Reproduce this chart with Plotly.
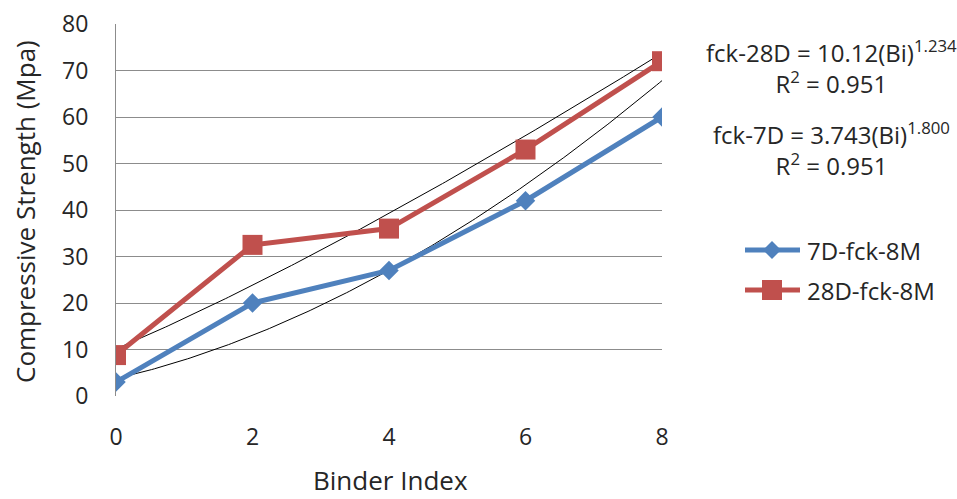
import numpy as np
import plotly.graph_objects as go

# Binder index categories and measured compressive strengths (MPa)
binder_index = [0, 2, 4, 6, 8]
fck_7d = [3, 20, 27, 42, 60]
fck_28d = [8.8, 32.5, 36, 53, 72]

# Power trendline coefficients (fitted on category position 1..5)
trend_28d = (10.12, 1.234)
trend_7d = (3.743, 1.800)

series_names = ["7D-fck-8M", "28D-fck-8M"]
equations = [
    "fck-28D = 10.12(Bi)<sup>1.234</sup><br>R<sup>2</sup> = 0.951",
    "fck-7D = 3.743(Bi)<sup>1.800</sup><br>R<sup>2</sup> = 0.951",
]
x_title = "Binder Index"
y_title = "Compressive Strength (Mpa)"

BLUE = "#4F81BD"
RED = "#C0504D"
FONT = "Open Sans"
TXT = "#262626"

# plot area in pixels
L, R, T, B = 116, 662, 24, 396
W, H = 957, 499


def px(x):
    return (x - L) / (R - L)


def py(y):
    return (B - y) / (B - T)


fig = go.Figure()

# Smooth trendlines evaluated over the category positions
xs = np.linspace(0, 8, 200)
pos = xs / 2 + 1
for a, b in (trend_28d, trend_7d):
    fig.add_trace(go.Scatter(
        x=xs, y=a * pos ** b, mode="lines",
        line=dict(color="black", width=1), showlegend=False, hoverinfo="skip"))

fig.add_trace(go.Scatter(
    x=binder_index, y=fck_7d, mode="lines+markers", name=series_names[0],
    line=dict(color=BLUE, width=5),
    marker=dict(symbol="diamond", size=15, color=BLUE), showlegend=False))
fig.add_trace(go.Scatter(
    x=binder_index, y=fck_28d, mode="lines+markers", name=series_names[1],
    line=dict(color=RED, width=5),
    marker=dict(symbol="square", size=20, color=RED), showlegend=False))

fig.update_layout(
    width=W, height=H,
    margin=dict(l=L, r=W - R, t=T, b=H - B),
    paper_bgcolor="white", plot_bgcolor="white",
    font=dict(family=FONT, color=TXT, size=23),
    xaxis=dict(
        range=[0, 8], tickvals=binder_index, ticktext=[str(v) for v in binder_index],
        showgrid=False, zeroline=False, showline=False, ticks="",
        ticklabelstandoff=25, tickfont=dict(size=23), automargin=False),
    yaxis=dict(
        range=[0, 80], dtick=10, showgrid=True, gridcolor="#8c8c8c", gridwidth=1,
        zeroline=False, showline=True, linecolor="#8c8c8c", linewidth=1, ticks="",
        ticklabelstandoff=22, tickfont=dict(size=23), automargin=False),
    showlegend=False,
)

# Axis titles
fig.add_annotation(text=x_title, xref="paper", yref="paper", x=px(390), y=py(480),
                   xanchor="center", yanchor="middle", showarrow=False,
                   font=dict(size=26, family=FONT, color=TXT))
fig.add_annotation(text=y_title, xref="paper", yref="paper", x=px(25), y=py(212),
                   xanchor="center", yanchor="middle", showarrow=False, textangle=-90,
                   font=dict(size=26, family=FONT, color=TXT))

# Trendline equations with their R² values
for text, ypx in zip(equations, [67, 149]):
    fig.add_annotation(
        text=text, xref="paper", yref="paper",
        x=px(831), y=py(ypx), xanchor="center", yanchor="middle", showarrow=False,
        align="center", font=dict(size=24, family=FONT, color=TXT))

# Legend: line sample with marker, then label
legend_rows = [(250, BLUE, "diamond"), (290, RED, "square")]
shapes = []
for (ypx, color, sym), name in zip(legend_rows, series_names):
    shapes.append(dict(type="line", xref="paper", yref="paper",
                       x0=px(745), x1=px(800), y0=py(ypx), y1=py(ypx),
                       line=dict(color=color, width=5)))
    cx, cy = 772, ypx
    if sym == "diamond":
        h = 9
        path = "M {x0} {y} L {x} {y0} L {x1} {y} L {x} {y1} Z".format(
            x0=px(cx - h), x1=px(cx + h), x=px(cx), y=py(cy), y0=py(cy - h), y1=py(cy + h))
    else:
        h = 10
        path = "M {x0} {y0} L {x1} {y0} L {x1} {y1} L {x0} {y1} Z".format(
            x0=px(cx - h), x1=px(cx + h), y0=py(cy - h), y1=py(cy + h))
    shapes.append(dict(type="path", xref="paper", yref="paper", path=path,
                       fillcolor=color, line=dict(color=color, width=0)))
    fig.add_annotation(
        text=name, xref="paper", yref="paper", x=px(805), y=py(ypx),
        xanchor="left", yanchor="middle", showarrow=False,
        font=dict(size=24, family=FONT, color=TXT))
fig.update_layout(shapes=shapes)

fig.write_html("out.html")
